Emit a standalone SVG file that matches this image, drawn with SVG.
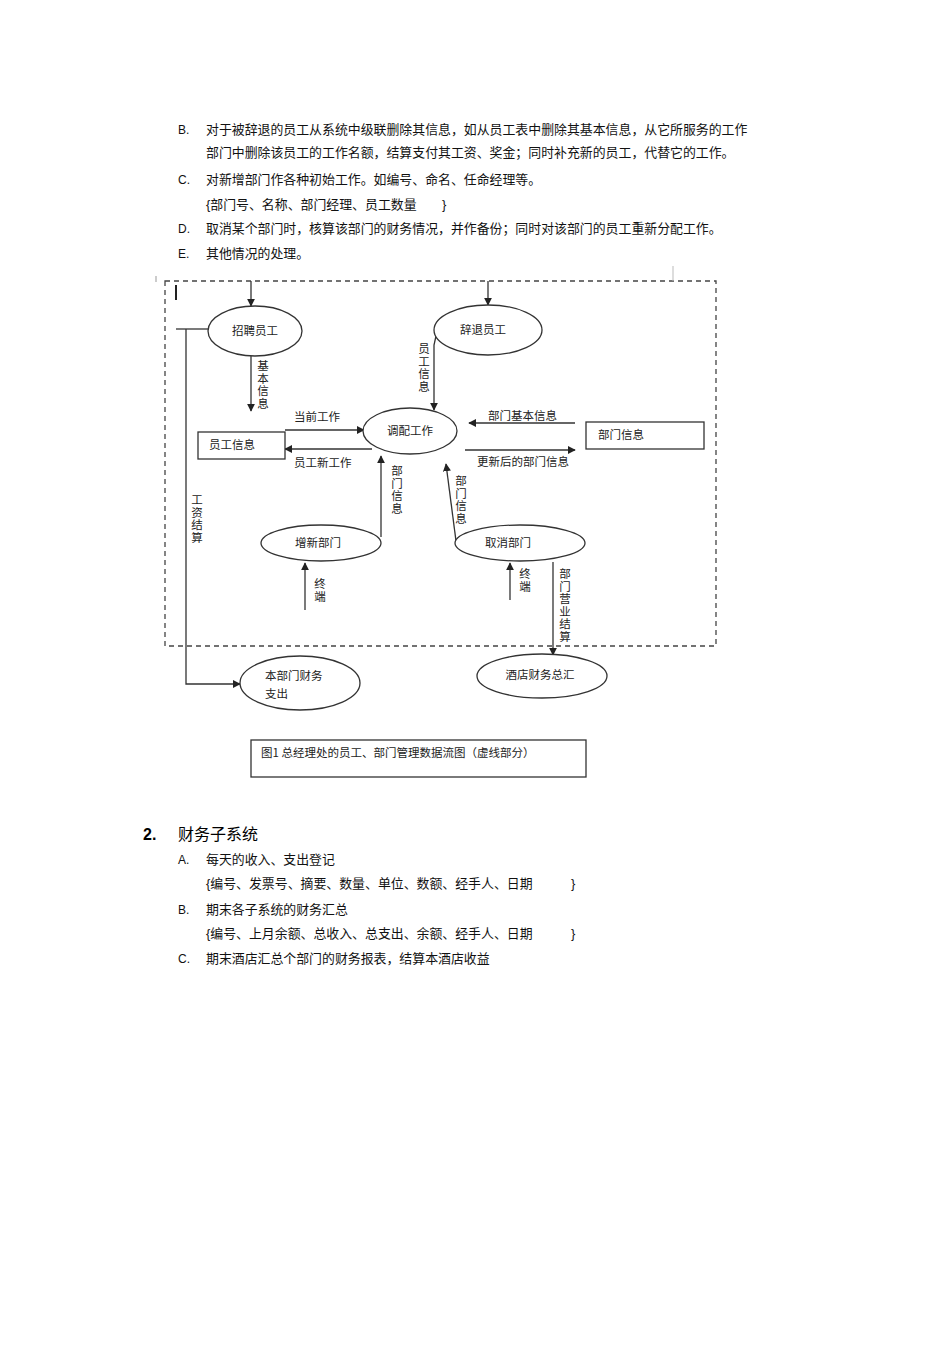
<svg xmlns="http://www.w3.org/2000/svg" width="950" height="1346" viewBox="0 0 950 1346">
<style>
.t{font-family:"Liberation Sans","Noto Sans CJK SC",sans-serif;font-size:12.9px;fill:#111}
.d{font-family:"Noto Sans CJK SC",sans-serif;font-size:11.5px;fill:#222}
.v{font-family:"Noto Sans CJK SC",sans-serif;font-size:11.5px;fill:#222;writing-mode:tb;letter-spacing:1px}
.n{fill:#fff;stroke:#333;stroke-width:1.3}
.c path,.c line,.c polyline{fill:none;stroke:#333;stroke-width:1.3}
</style>
<defs><marker id="a" viewBox="0 0 10 10" refX="9" refY="5" markerWidth="8" markerHeight="8" orient="auto" markerUnits="userSpaceOnUse"><path d="M0,0L10,5L0,10z" fill="#222"/></marker></defs>
<rect width="950" height="1346" fill="#fff"/>
<g id="text">
<text class="t" x="178" y="134" style="font-size:12px">B.</text><text class="t" x="206" y="134">对于被辞退的员工从系统中级联删除其信息，如从员工表中删除其基本信息，从它所服务的工作</text>
<text class="t" x="206" y="157">部门中删除该员工的工作名额，结算支付其工资、奖金；同时补充新的员工，代替它的工作。</text>
<text class="t" x="178" y="184" style="font-size:12px">C.</text><text class="t" x="206" y="184">对新增部门作各种初始工作。如编号、命名、任命经理等。</text>
<text class="t" x="206" y="209">{部门号、名称、部门经理、员工数量</text><text class="t" x="442" y="209">}</text>
<text class="t" x="178" y="233" style="font-size:12px">D.</text><text class="t" x="206" y="233">取消某个部门时，核算该部门的财务情况，并作备份；同时对该部门的员工重新分配工作。</text>
<text class="t" x="178" y="258" style="font-size:12px">E.</text><text class="t" x="206" y="258">其他情况的处理。</text>
<text x="143" y="840" style="font-family:'Liberation Sans',sans-serif;font-size:16px;font-weight:bold">2.</text>
<text x="178" y="840" style="font-family:'Noto Sans CJK SC',sans-serif;font-size:16px">财务子系统</text>
<text class="t" x="178" y="864" style="font-size:12px">A.</text><text class="t" x="206" y="864">每天的收入、支出登记</text>
<text class="t" x="206" y="888">{编号、发票号、摘要、数量、单位、数额、经手人、日期</text><text class="t" x="571" y="888">}</text>
<text class="t" x="178" y="914" style="font-size:12px">B.</text><text class="t" x="206" y="914">期末各子系统的财务汇总</text>
<text class="t" x="206" y="938">{编号、上月余额、总收入、总支出、余额、经手人、日期</text><text class="t" x="571" y="938">}</text>
<text class="t" x="178" y="963" style="font-size:12px">C.</text><text class="t" x="206" y="963">期末酒店汇总个部门的财务报表，结算本酒店收益</text>
</g>
<g id="frame">
<rect x="165" y="281" width="551" height="365" fill="none" stroke="#444" stroke-width="1.3" stroke-dasharray="5,4"/>
<line x1="176" y1="285" x2="176" y2="300" stroke="#222" stroke-width="2"/>
<line x1="156" y1="276" x2="156" y2="282" stroke="#999"/>
<line x1="673" y1="266" x2="673" y2="281" stroke="#bbb"/>
</g>
<g class="c" id="connectors">
<line x1="251" y1="281" x2="251" y2="306" marker-end="url(#a)"/>
<line x1="488" y1="281" x2="488" y2="305" marker-end="url(#a)"/>
<polyline points="176,329 208,329"/>
<polyline points="186,329 186,684 240,684" marker-end="url(#a)"/>
<line x1="251" y1="356" x2="251" y2="411" marker-end="url(#a)"/>
<polyline points="436,336 434,345 434,410" marker-end="url(#a)"/>
<line x1="285" y1="430" x2="364" y2="430" marker-end="url(#a)"/>
<line x1="372" y1="449" x2="285" y2="449" marker-end="url(#a)"/>
<line x1="575" y1="423" x2="469" y2="423" marker-end="url(#a)"/>
<line x1="465" y1="450" x2="575" y2="450" marker-end="url(#a)"/>
<line x1="381" y1="537" x2="381" y2="456" marker-end="url(#a)"/>
<path d="M456,541 L446,464" marker-end="url(#a)"/>
<line x1="305" y1="610" x2="305" y2="563" marker-end="url(#a)"/>
<line x1="510" y1="600" x2="510" y2="563" marker-end="url(#a)"/>
<line x1="553" y1="562" x2="553" y2="655" marker-end="url(#a)"/>
</g>
<g id="labels">
<text class="v" x="263" y="360">基本信息</text>
<text class="v" x="424" y="343">员工信息</text>
<text class="d" x="294" y="421">当前工作</text>
<text class="d" x="294" y="467">员工新工作</text>
<text class="d" x="488" y="420">部门基本信息</text>
<text class="d" x="477" y="466">更新后的部门信息</text>
<text class="v" x="397" y="465">部门信息</text>
<text class="v" x="461" y="475">部门信息</text>
<text class="v" x="197" y="494">工资结算</text>
<text class="v" x="320" y="578">终端</text>
<text class="v" x="525" y="568">终端</text>
<text class="v" x="565" y="568">部门营业结算</text>
</g>
<g id="n1"><ellipse class="n" cx="255" cy="331" rx="47" ry="25"/><text class="d" x="255" y="335" text-anchor="middle">招聘员工</text></g>
<g id="n2"><ellipse class="n" cx="488" cy="330" rx="54" ry="25"/><text class="d" x="483" y="334" text-anchor="middle">辞退员工</text></g>
<g id="n3"><rect class="n" x="198" y="432" width="87" height="27"/><text class="d" x="232" y="449" text-anchor="middle">员工信息</text></g>
<g id="n4"><ellipse class="n" cx="410" cy="431" rx="47" ry="23"/><text class="d" x="410" y="435" text-anchor="middle">调配工作</text></g>
<g id="n5"><rect class="n" x="586" y="422" width="118" height="27"/><text class="d" x="621" y="439" text-anchor="middle">部门信息</text></g>
<g id="n6"><ellipse class="n" cx="321" cy="543" rx="60" ry="18"/><text class="d" x="318" y="547" text-anchor="middle">增新部门</text></g>
<g id="n7"><ellipse class="n" cx="520" cy="543" rx="65" ry="18"/><text class="d" x="508" y="547" text-anchor="middle">取消部门</text></g>
<g id="n8"><ellipse class="n" cx="300" cy="683" rx="60" ry="27"/><text class="d" x="265" y="680">本部门财务</text><text class="d" x="265" y="698">支出</text></g>
<g id="n9"><ellipse class="n" cx="542" cy="676" rx="65" ry="22"/><text class="d" x="540" y="679" text-anchor="middle">酒店财务总汇</text></g>
<g id="caption"><rect x="251" y="740" width="335" height="37" fill="none" stroke="#333" stroke-width="1.3"/><text class="d" x="261" y="757">图1 总经理处的员工、部门管理数据流图（虚线部分）</text></g>
</svg>
